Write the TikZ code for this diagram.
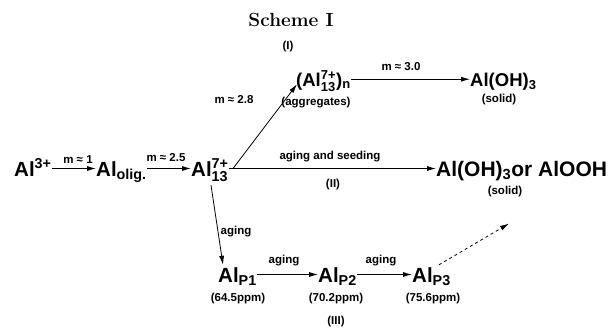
\documentclass[tikz,border=0pt]{standalone}
\usepackage{fontspec}
\usepackage{amsmath}
\newfontfamily\arial{Liberation Sans}
\usetikzlibrary{arrows.meta,calc}

% species with stacked super-/subscript
\newcommand{\supsub}[2]{$^{\text{#1}}_{\text{#2}}$}

\begin{document}
\begin{tikzpicture}[x=1pt,y=-1pt,
  species/.style={inner sep=0pt, anchor=base west, font=\arial\fontsize{20.5}{22}\selectfont\bfseries,
                  text height=15pt, text depth=0pt},
  bigspecies/.style={species, font=\arial\fontsize{21}{23}\selectfont\bfseries},
  smallspecies/.style={species, font=\arial\fontsize{18.5}{20}\selectfont\bfseries, text height=13.5pt},
  lbl/.style={inner sep=0pt, font=\arial\fontsize{11.5}{13}\selectfont\bfseries},
  rxn/.style={-{Latex[length=9pt,width=5pt]}, line width=0.8pt},
  rxndash/.style={rxn, dashed}]
\useasboundingbox (0,0) rectangle (610,333);

\node[font=\bfseries\fontsize{19}{22}\selectfont] (title) at (291,20) {Scheme I};
\node[lbl] (pI) at (288,47) {(I)};

% main species
\node[species] (al3)  at (14,176)  {Al\supsub{3+}{}};
\node[species] (olig) at (96,176)  {Al\textsubscript{olig.}};
\node[species] (al13) at (191,176) {Al\supsub{7+}{13}};
\node[bigspecies] (prod) at (436,176) {Al(OH)\textsubscript{3}or AlOOH};
\node[smallspecies] (agg)  at (296,86)  {(Al\supsub{7+}{13})\textsubscript{n}};
\node[smallspecies] (aloh) at (470,86)  {Al(OH)\textsubscript{3}};
\node[species] (p1)   at (218,282) {Al\textsubscript{P1}};
\node[species] (p2)   at (318,282) {Al\textsubscript{P2}};
\node[species] (p3)   at (412,282) {Al\textsubscript{P3}};

% labels
\node[lbl] (m1)   at (78,160)  {m ≈ 1};
\node[lbl] (m25)  at (166,158) {m ≈ 2.5};
\node[lbl] (seed) at (330,157) {aging and seeding};
\node[lbl] (pII)  at (333,185) {(II)};
\node[lbl] (sol2) at (505,192) {(solid)};
\node[lbl] (m28)  at (234,100) {m ≈ 2.8};
\node[lbl] (aggl) at (316,103) {(aggregates)};
\node[lbl] (m30)  at (401,67)  {m ≈ 3.0};
\node[lbl] (sol1) at (499,100) {(solid)};
\node[lbl] (ag0)  at (236,232) {aging};
\node[lbl] (ag1)  at (284,261) {aging};
\node[lbl] (ag2)  at (381,261) {aging};
\node[lbl] (ppm1) at (238,299) {(64.5ppm)};
\node[lbl] (ppm2) at (336,299) {(70.2ppm)};
\node[lbl] (ppm3) at (433,299) {(75.6ppm)};
\node[lbl] (pIII) at (336,322) {(III)};

% reactions
\draw[rxn] (al3.east)  -- (olig.west);
\draw[rxn] (olig.east) -- (al13.west);
\draw[rxn] (al13.east) -- (prod.west);
\draw[rxn] ([xshift=4pt,yshift=-8pt]al13.north east) -- ([xshift=1pt,yshift=-5pt]agg.west);
\draw[rxn] (agg.east) -- (aloh.west);
\draw[rxn] ([xshift=20pt,yshift=-9pt]al13.south west) -- ([xshift=5pt,yshift=2pt]p1.north west);
\draw[rxn] (p1.east) -- (p2.west);
\draw[rxn] (p2.east) -- (p3.west);
\draw[rxndash] ([xshift=-12pt,yshift=2pt]p3.north east) -- ([xshift=4pt,yshift=-26pt]sol2.south);
\end{tikzpicture}
\end{document}
